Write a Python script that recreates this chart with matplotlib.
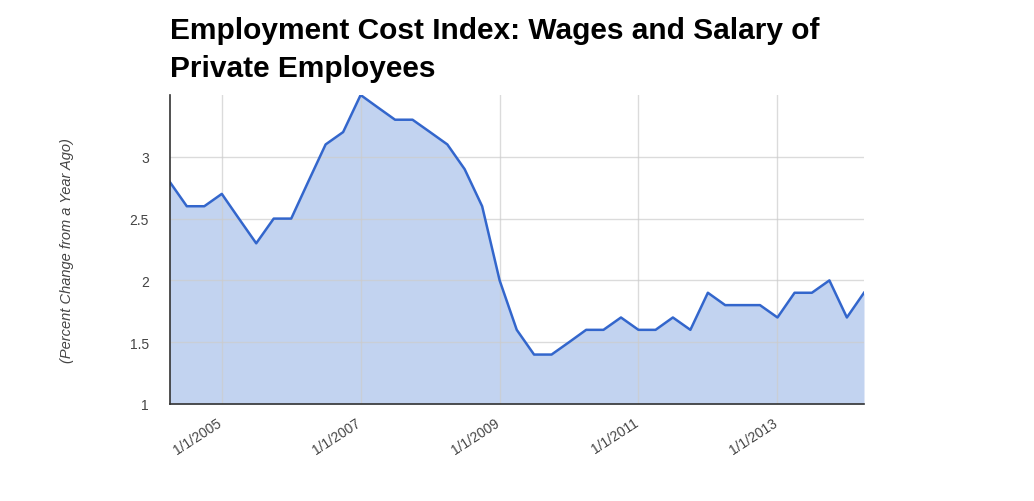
import numpy as np
import pandas as pd
import matplotlib
matplotlib.use("Agg")
import matplotlib.pyplot as plt
import matplotlib.transforms as mtransforms

plt.rcParams["font.family"] = ["Liberation Sans", "DejaVu Sans"]

# quarterly observations, 2004 Q2 .. 2014 Q2
dates = pd.date_range("2004-04-01", "2014-04-01", freq="QS")
values = [2.8, 2.6, 2.6, 2.7, 2.5, 2.3, 2.5, 2.5, 2.8, 3.1, 3.2,
          3.5, 3.4, 3.3, 3.3, 3.2, 3.1, 2.9, 2.6, 2.0, 1.6, 1.4,
          1.4, 1.5, 1.6, 1.6, 1.7, 1.6, 1.6, 1.7, 1.6, 1.9, 1.8,
          1.8, 1.8, 1.7, 1.9, 1.9, 2.0, 1.7, 1.9]
tick_dates = pd.to_datetime(["2005-01-01", "2007-01-01", "2009-01-01",
                             "2011-01-01", "2013-01-01"])
tick_labels = ["1/1/2005", "1/1/2007", "1/1/2009", "1/1/2011", "1/1/2013"]
y_ticks = [1, 1.5, 2, 2.5, 3]
y_tick_labels = ["1", "1.5", "2", "2.5", "3"]

fig = plt.figure(figsize=(10.34, 5.02), dpi=100)
ax = fig.add_axes([169.5 / 1034, 1 - 405 / 502, (864 - 169.5) / 1034, (405 - 96) / 502])

ax.fill_between(dates, values, 1, color="#c2d3f0", lw=0, zorder=1)
ax.plot(dates, values, color="#3366cc", lw=1.8, zorder=3)

ax.set_xlim(dates[0], dates[-1])
ax.set_ylim(1, 3.5)

ax.set_xticks(tick_dates)
ax.set_xticklabels(tick_labels, rotation=33, ha="right", rotation_mode="anchor")
ax.set_yticks(y_ticks)
ax.set_yticklabels(y_tick_labels)
ax.tick_params(length=0, labelsize=10, colors="#444444")
ax.tick_params(axis="x", pad=8)
ax.tick_params(axis="y", pad=15)

# nudge the slanted date labels a little left
shift = mtransforms.ScaledTranslation(-5 / 100, 0, fig.dpi_scale_trans)
for lbl in ax.get_xticklabels():
    lbl.set_transform(lbl.get_transform() + shift)

ax.grid(True, color="#cccccc", lw=1, zorder=0)
ax.set_axisbelow(False)
for gl in ax.get_xgridlines() + ax.get_ygridlines():
    gl.set_zorder(2)
    gl.set_alpha(0.7)

for s in ["top", "right"]:
    ax.spines[s].set_visible(False)
for s in ["left", "bottom"]:
    ax.spines[s].set_color("#333333")
    ax.spines[s].set_linewidth(1.2)
    ax.spines[s].set_zorder(4)

ax.set_ylabel("(Percent Change from a Year Ago)", fontsize=10.5, style="italic",
              color="#444444", labelpad=40)

fig.text(170 / 1034, 1 - 17 / 502,
         "Employment Cost Index: Wages and Salary of\nPrivate Employees",
         fontsize=21.5, fontweight="bold", color="black", va="top", ha="left",
         linespacing=1.46)

plt.savefig("out.png", dpi=100)
